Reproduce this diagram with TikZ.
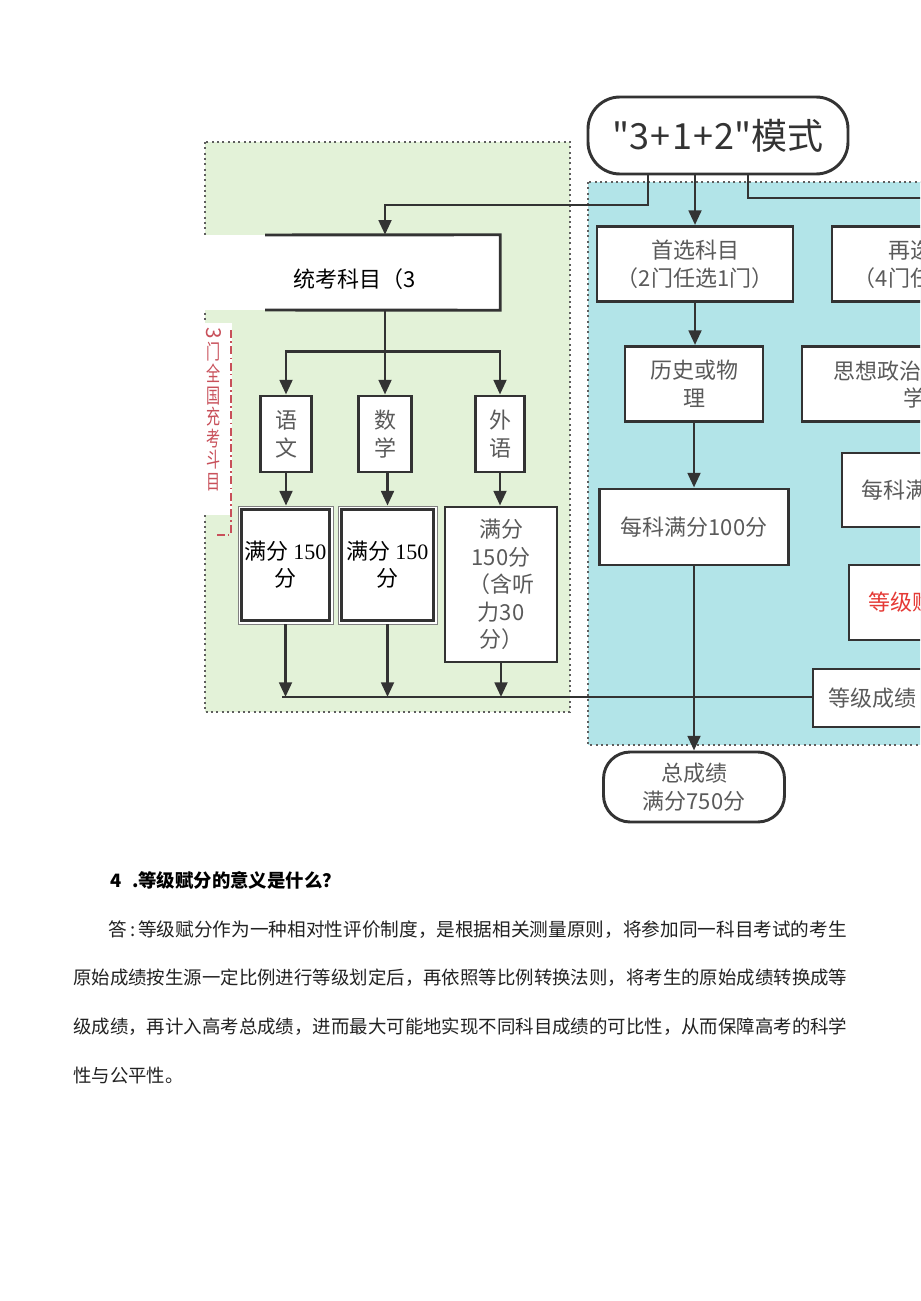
\documentclass[tikz,border=0pt]{standalone}
\usepackage{fontspec}
\usepackage{graphicx}
\usetikzlibrary{arrows.meta,calc}
\newfontfamily\cjk{Noto Sans CJK SC}
\newfontfamily\tms{Liberation Serif}
\definecolor{greenbg}{HTML}{E3F2D8}
\definecolor{cyanbg}{HTML}{B2E4E8}
\definecolor{dotc}{HTML}{5E5E5E}
\definecolor{boxline}{HTML}{333333}
\definecolor{txtgray}{HTML}{5A5A5A}
\definecolor{redv}{HTML}{C8505A}
\definecolor{redtxt}{HTML}{E53935}
\definecolor{paratxt}{HTML}{222222}
\newcommand\nc[1]{\scalebox{0.68}[1]{#1}}
\tikzset{
  every node/.style={inner sep=0pt, font=\cjk},
  sz/.style 2 args={minimum width=#1*0.75pt, minimum height=#2*0.75pt},
  box/.style={draw=boxline, line width=2.2pt, fill=white, text=txtgray, align=center,
              font=\cjk\fontsize{16.5}{21}\selectfont},
  conn/.style={draw=boxline, line width=2.1pt},
  arr/.style={conn, -{Triangle[width=9.5pt,length=11pt]}},
  region/.style={draw=dotc, line width=1.6pt, dash pattern=on 1.6pt off 2.4pt},
  lbl/.style={text=txtgray, font=\cjk\fontsize{16.5}{21}\selectfont},
  para/.style={anchor=base west, text=paratxt, font=\cjk\fontsize{13.8}{16}\selectfont},
  redline/.style={draw=redv, line width=1pt, dash pattern=on 6pt off 2.5pt on 1.2pt off 2.5pt},
}
\begin{document}
\begin{tikzpicture}[x=0.75pt,y=-0.75pt]
\useasboundingbox (0,0) rectangle (920,1301);
\fill[white] (0,0) rectangle (920,1301);
\clip (0,0) rectangle (920,1301);

% regions
\draw[region, fill=greenbg] (205,142) rectangle (570,712);
\draw[region, fill=cyanbg] (588,182) rectangle (960,745);

% top node
\node[box, sz={260}{77}, rounded corners=24pt, text=boxline,
      font=\cjk\fontsize{27}{30}\selectfont] (top) at (718,135.5) {"3\kern1pt+\kern1pt1\kern1pt+\kern1pt2"模式};

% right (cyan) part
\node[box, sz={196}{75}] (shouxuan) at (695,264) {首选科目\\（2门任选1门）};
\node[box, sz={200}{75}] (zaixuan) at (932,264) {再选科目\\（4门任选2门）};
\node[box, sz={138}{75}] (lishi) at (694,384) {历史或物\\理};
\node[box, sz={250}{75}] (sixiang) at (927,384) {};
\node[lbl, anchor=west] (sx1) at (833,371) {思想政治、地理、化};
\node[lbl, anchor=west] (sx2) at (903,398) {学、生物};
\node[box, sz={186}{74}] (meike2) at (935,490) {每科满分100分};
\node[box, sz={126}{75}, text=redtxt] (fufen) at (912,602.5) {等级赋分};
\node[box, sz={118}{58}] (dengji) at (872,698) {等级成绩};
\node[box, sz={189}{76}] (meike1) at (694,527) {每科满分100分};
\node[box, sz={181}{70}, rounded corners=20pt] (zong) at (694,787) {总成绩\\满分750分};

% green part
\node[fill=white, sz={297}{75}] (tongkao) at (351.5,272.5) {};
\draw[boxline, line width=2.2pt] (265,235) -- (tongkao.north east) -- (tongkao.south east) -- (265,310);
\node[text=black, font=\cjk\fontsize{16.5}{20}\selectfont] (tktext) at (355,279) {统考科目（3};

\node[box, sz={51}{76}] (yuwen) at (286,434) {语\\文};
\node[box, sz={53}{76}] (shuxue) at (385,434) {数\\学};
\node[box, sz={49}{76}] (waiyu) at (500,434) {外\\语};

\node[draw=gray, line width=0.6pt, fill=white, sz={95}{118}, align=center, text=black,
      font=\cjk\fontsize{16.5}{20}\selectfont] (score1) at (285.5,565) {满分 {\tms 150}\\分};
\draw[boxline, line width=2.2pt] ([shift={(4,4)}]score1.north west) rectangle ([shift={(-4,-4)}]score1.south east);
\node[draw=gray, line width=0.6pt, fill=white, sz={99}{118}, align=center, text=black,
      font=\cjk\fontsize{16.5}{20}\selectfont] (score2) at (387.5,565) {满分 {\tms 150}\\分};
\draw[boxline, line width=2.2pt] ([shift={(4,4)}]score2.north west) rectangle ([shift={(-4,-4)}]score2.south east);
\node[box, sz={112}{155}, font=\cjk\fontsize{16.5}{20.6}\selectfont] (score3) at (501,584.5) {满分\\150分\\（含听\\力30\\分）};

% connectors from top
\coordinate (j1) at (648,205);
\draw[arr] (top.south -| j1) -- (j1) -| (tongkao.north -| shuxue.north);
\draw[arr] (top.south -| shouxuan.north) -- (shouxuan.north);
\coordinate (j3) at (748,198);
\coordinate (offr) at (940,198);
\draw[conn] (top.south -| j3) -- (j3) -- (offr);

% cyan chain
\draw[arr] (shouxuan.south) -- (shouxuan.south |- lishi.north);
\draw[arr] (lishi.south) -- (lishi.south |- meike1.north);

% bus line
\coordinate (busL) at (282,697);
\draw[conn] (busL) -- (busL -| dengji.west);
\draw[arr] (meike1.south) -- (meike1.south |- zong.north);

% green chain
\path (shuxue.north) ++(0,-43) coordinate (bar);
\draw[conn] (tongkao.south -| bar) -- (bar);
\draw[arr] (bar) -| (yuwen.north);
\draw[arr] (bar) -| (waiyu.north);
\draw[arr] (bar) -- (shuxue.north);
\draw[arr] (yuwen.south) -- (yuwen.south |- score1.north);
\draw[arr] (shuxue.south -| score2.north) -- (score2.north);
\draw[arr] (waiyu.south) -- (waiyu.south |- score3.north);
\draw[arr] (score1.south) -- (score1.south |- busL);
\draw[arr] (score2.south) -- (score2.south |- busL);
\draw[arr] (score3.south) -- (score3.south |- busL);

% red vertical overlay
\node[fill=white, sz={29}{192}] (strip) at (217.5,419) {};
\draw[redline] (231,330) -- (231,535) -- (214,535);
\node[text=redv, align=center, font=\cjk\fontsize{15.5}{16.2}\selectfont] (redtxt) at (214,409)
  {\raisebox{2pt}{\rotatebox{-90}{3}}\\[2pt]\nc{门}\\\nc{全}\\\nc{国}\\\nc{充}\\\nc{考}\\\nc{斗}\\\nc{目}};

% text below
\node[para, text=black, font=\cjk\bfseries\fontsize{13.8}{16}\selectfont] (q4) at (110,887)
  {4\hspace{8pt}.等级赋分的意义是什么？};
\node[para] (l1) at (108,936) {\resizebox{554pt}{!}{答\,:\,等级赋分作为一种相对性评价制度，是根据相关测量原则，将参加同一科目考试的考生}};
\node[para] (l2) at (73,984) {\resizebox{580.5pt}{!}{原始成绩按生源一定比例进行等级划定后，再依照等比例转换法则，将考生的原始成绩转换成等}};
\node[para] (l3) at (73,1033) {\resizebox{580.5pt}{!}{级成绩，再计入高考总成绩，进而最大可能地实现不同科目成绩的可比性，从而保障高考的科学}};
\node[para] (l4) at (73,1082) {性与公平性。};
\end{tikzpicture}
\end{document}
